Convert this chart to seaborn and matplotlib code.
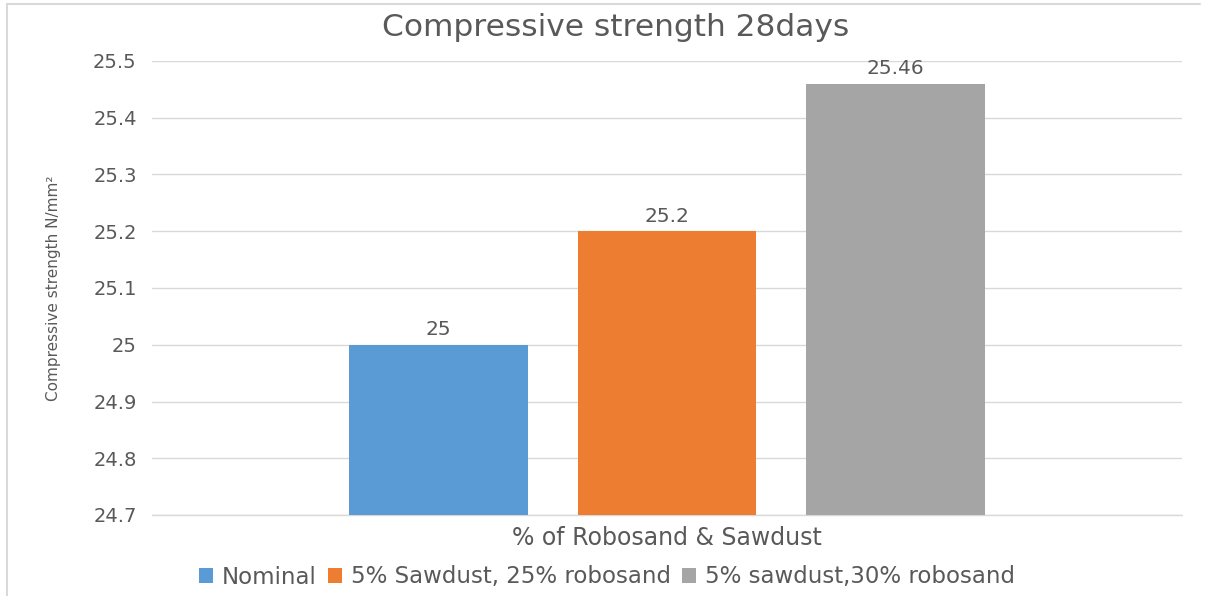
import matplotlib
matplotlib.use("Agg")
import matplotlib.pyplot as plt
import seaborn as sns
import pandas as pd
from matplotlib.lines import Line2D

categories = ["Nominal", "5% Sawdust, 25% robosand", "5% sawdust,30% robosand"]
values = [25.0, 25.2, 25.46]
group = ["% of Robosand & Sawdust"] * 3
colors = ["#5B9BD5", "#ED7D31", "#A5A5A5"]
yticks = [24.7, 24.8, 24.9, 25.0, 25.1, 25.2, 25.3, 25.4, 25.5]
ytick_labels = ["24.7", "24.8", "24.9", "25", "25.1", "25.2", "25.3", "25.4", "25.5"]

df = pd.DataFrame({"group": group, "series": categories, "value": values})

sns.set_theme(style="white")
plt.rcParams["font.family"] = ["DejaVu Sans"]
text_color = "#595959"

fig = plt.figure(figsize=(12.09, 5.96), dpi=100)
ax = fig.add_axes([152/1209, 1-515/596, (1182-152)/1209, (515-61)/596])

sns.barplot(data=df, x="group", y="value", hue="series", hue_order=categories,
            palette=colors, width=0.6655, gap=0.217, ax=ax, legend=True,
            saturation=1, edgecolor="none", linewidth=0)

ax.set_ylim(24.7, 25.5)
ax.set_xlim(-0.5, 0.5)
ax.set_yticks(yticks)
ax.set_yticklabels(ytick_labels)
ax.tick_params(axis="y", length=0, labelsize=14, labelcolor=text_color, pad=11)
ax.set_xticks([])
ax.grid(axis="y", color="#D9D9D9", linewidth=1)
ax.axhline(24.7, color="#D9D9D9", linewidth=1, clip_on=False, zorder=0.5)
ax.set_axisbelow(True)
for s in ax.spines.values():
    s.set_visible(False)

for c in ax.containers:
    ax.bar_label(c, fmt="%g", padding=4, fontsize=14.5, color=text_color)

ax.set_xlabel("% of Robosand & Sawdust", fontsize=17, color=text_color, labelpad=8)
ax.set_ylabel("Compressive strength N/mm²", fontsize=11, color=text_color)
ax.yaxis.set_label_coords((61 - 152) / 1030, 0.5)
fig.text(616/1209, 1-28/596, "Compressive strength 28days", ha="center", va="center",
         fontsize=22.5, color=text_color)

leg = ax.legend(loc="center", bbox_to_anchor=((607-152)/1030, (515-577)/454), ncol=3, frameon=False,
                fontsize=16.5, handlelength=0.6, handleheight=0.6, handletextpad=0.4,
                columnspacing=0.5, borderaxespad=0)
for t in leg.get_texts():
    t.set_color(text_color)

fig.add_artist(Line2D([7/1209, 7/1209], [0, 1-4/596], color="#D9D9D9", linewidth=1.5, transform=fig.transFigure))
fig.add_artist(Line2D([7/1209, 1200/1209], [1-4/596, 1-4/596], color="#D9D9D9", linewidth=1.5, transform=fig.transFigure))

fig.savefig("out.png", dpi=100, facecolor="white")
